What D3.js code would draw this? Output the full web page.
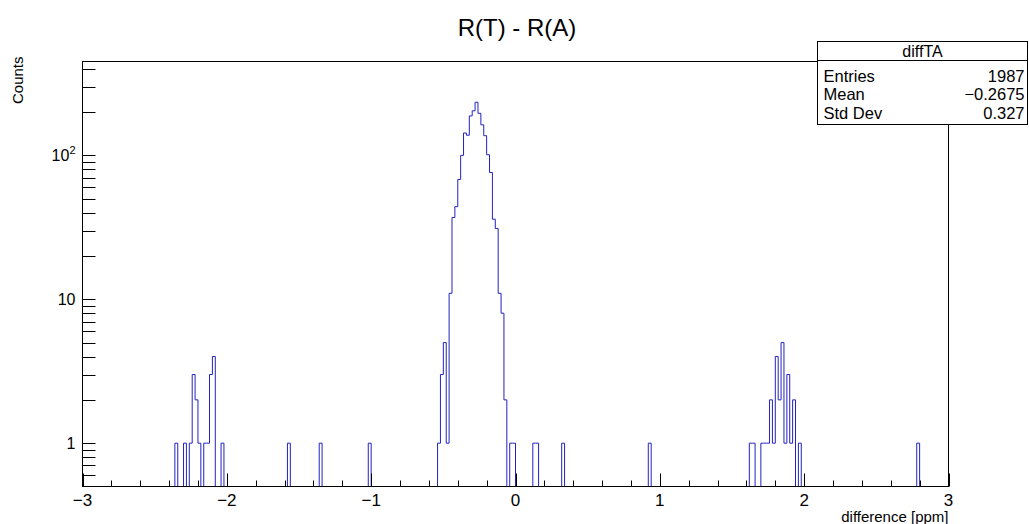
<!DOCTYPE html>
<html>
<head>
<meta charset="utf-8">
<script src="https://cdn.jsdelivr.net/npm/d3@7"></script>
<style>
  body { margin: 0; background: #fff; }
  svg { display: block; font-family: 'Liberation Sans', Arial, sans-serif; }
</style>
</head>
<body>
<div id="chart"></div>
<script>
// histogram axis: 300 bins of 0.02 from -3 to 3
const xMin = -3
const xMax = 3
const binWidth = 0.02

// non-empty bins (low edge) and their counts
const binLowEdges = [
  -2.36, -2.30, -2.26, -2.24, -2.22, -2.20, -2.16, -2.14, -2.12, -2.10, -2.04,
  -1.58, -1.36, -1.02,
  -0.54, -0.52, -0.50, -0.48, -0.46, -0.44, -0.42, -0.40, -0.38, -0.36, -0.34,
  -0.32, -0.30, -0.28, -0.26, -0.24, -0.22, -0.20, -0.18, -0.16, -0.14, -0.12,
  -0.10, -0.08, -0.04, -0.02,
  0.12, 0.14, 0.32, 0.92,
  1.62, 1.64, 1.70, 1.72, 1.74, 1.76, 1.78, 1.80, 1.82, 1.84, 1.86, 1.88, 1.90,
  1.92, 1.96,
  2.78,
]
const binCounts = [
  1, 1, 1, 3, 2, 1, 1, 1, 3, 4, 1,
  1, 1, 1,
  1, 3, 5, 1, 11, 37, 44, 68, 100, 143, 138,
  188, 204, 234, 196, 163, 137, 101, 76, 36, 31, 11,
  8, 2, 1, 1,
  1, 1, 1, 1,
  1, 1, 1, 1, 1, 2, 1, 4, 2, 5, 1, 3, 1,
  2, 1,
  1,
]

const xTickValues = [-3, -2, -1, 0, 1, 2, 3]
const yLabelValues = [1, 10, 100]

const statsTitle = 'diffTA'
const statsNames = ['Entries', 'Mean', 'Std Dev']
const statsValues = ['1987', '\u22120.2675', '0.327']

const chartTitle = 'R(T) - R(A)'
const xAxisLabel = 'difference [ppm]'
const yAxisLabel = 'Counts'

renderChart()

function renderChart() {
  const width = 1029
  const height = 524
  const frame = { left: 82.5, right: 948.5, top: 61.5, bottom: 486.5 }
  const lineColor = '#2222c4'

  const svg = d3
    .select('#chart')
    .append('svg')
    .attr('width', width)
    .attr('height', height)

  const xScale = d3
    .scaleLinear()
    .domain([xMin, xMax])
    .range([frame.left, frame.right])
  const yScale = d3
    .scaleLog()
    .domain([0.5, 449])
    .range([frame.bottom, frame.top])

  // fill the full set of bins, empty ones are 0
  const nBins = Math.round((xMax - xMin) / binWidth)
  const counts = new Array(nBins).fill(0)
  binLowEdges.forEach((lo, i) => {
    counts[Math.round((lo - xMin) / binWidth)] = binCounts[i]
  })
  const steps = counts.map((c, i) => ({ x: xMin + i * binWidth, c }))
  steps.push({ x: xMax, c: counts[nBins - 1] })

  svg
    .append('defs')
    .append('clipPath')
    .attr('id', 'frame-clip')
    .append('rect')
    .attr('x', frame.left)
    .attr('y', frame.top)
    .attr('width', frame.right - frame.left)
    .attr('height', frame.bottom - frame.top)

  const histLine = d3
    .line()
    .x(d => xScale(d.x))
    .y(d => (d.c > 0 ? yScale(d.c) : frame.bottom))
    .curve(d3.curveStepAfter)

  svg
    .append('path')
    .datum(steps)
    .attr('clip-path', 'url(#frame-clip)')
    .attr('d', histLine)
    .attr('fill', 'none')
    .attr('stroke', lineColor)
    .attr('stroke-width', 1)

  // frame
  svg
    .append('rect')
    .attr('x', frame.left)
    .attr('y', frame.top)
    .attr('width', frame.right - frame.left)
    .attr('height', frame.bottom - frame.top)
    .attr('fill', 'none')
    .attr('stroke', '#000')
    .attr('stroke-width', 1)

  renderXAxis({ svg, xScale, frame })
  renderYAxis({ svg, yScale, frame })
  renderStats({ svg })

  svg
    .append('text')
    .attr('x', 517)
    .attr('y', 36)
    .attr('text-anchor', 'middle')
    .style('font-size', '24px')
    .text(chartTitle)
}

function renderXAxis({ svg, xScale, frame }) {
  const minorTicks = d3.range(xMin, xMax + 0.001, 0.2)
  const g = svg.append('g').attr('class', 'x-axis')

  g.selectAll('line.minor')
    .data(minorTicks)
    .join('line')
    .attr('x1', d => Math.round(xScale(d)) + 0.5)
    .attr('x2', d => Math.round(xScale(d)) + 0.5)
    .attr('y1', frame.bottom)
    .attr('y2', d =>
      xTickValues.some(t => Math.abs(t - d) < 1e-6)
        ? frame.bottom - 13
        : frame.bottom - 6,
    )
    .attr('stroke', '#000')

  g.selectAll('text')
    .data(xTickValues)
    .join('text')
    .attr('x', d => xScale(d))
    .attr('y', frame.bottom + 19)
    .attr('text-anchor', 'middle')
    .style('font-size', '17px')
    .text(d => (d < 0 ? `\u2212${Math.abs(d)}` : d))

  g.append('text')
    .attr('x', frame.right)
    .attr('y', 522)
    .attr('text-anchor', 'end')
    .style('font-size', '15px')
    .text(xAxisLabel)
}

function renderYAxis({ svg, yScale, frame }) {
  const g = svg.append('g').attr('class', 'y-axis')
  const ticks = yScale.ticks().filter(v => v > 0.5 && yScale(v) > frame.top)

  g.selectAll('line')
    .data(ticks)
    .join('line')
    .attr('x1', frame.left)
    .attr('x2', frame.left + 13)
    .attr('y1', d => Math.round(yScale(d)) + 0.5)
    .attr('y2', d => Math.round(yScale(d)) + 0.5)
    .attr('stroke', '#000')

  const labels = g
    .selectAll('text.tick-label')
    .data(yLabelValues)
    .join('text')
    .attr('class', 'tick-label')
    .attr('x', frame.left - 7)
    .attr('y', d => yScale(d) + 6)
    .attr('text-anchor', 'end')
    .style('font-size', '16px')

  labels.each(function (d) {
    const t = d3.select(this)
    if (d >= 100) {
      t.append('tspan').text('10')
      t.append('tspan')
        .attr('dy', -7)
        .style('font-size', '11px')
        .text(Math.round(Math.log10(d)))
    } else {
      t.text(d)
    }
  })

  g.append('text')
    .attr('transform', `translate(23, ${frame.top - 5}) rotate(-90)`)
    .attr('text-anchor', 'end')
    .style('font-size', '15px')
    .text(yAxisLabel)
}

function renderStats({ svg }) {
  const box = { x: 817.5, y: 41.5, w: 210, h: 83, header: 19 }
  const g = svg.append('g').attr('class', 'stats')

  g.append('rect')
    .attr('x', box.x)
    .attr('y', box.y)
    .attr('width', box.w)
    .attr('height', box.h)
    .attr('fill', '#fff')
    .attr('stroke', '#000')

  g.append('line')
    .attr('x1', box.x)
    .attr('x2', box.x + box.w)
    .attr('y1', box.y + box.header)
    .attr('y2', box.y + box.header)
    .attr('stroke', '#000')

  g.append('text')
    .attr('x', box.x + box.w / 2)
    .attr('y', box.y + 15)
    .attr('text-anchor', 'middle')
    .style('font-size', '16px')
    .text(statsTitle)

  statsNames.forEach((name, i) => {
    const y = box.y + box.header + 21 + i * 18.5
    g.append('text')
      .attr('x', box.x + 6)
      .attr('y', y)
      .style('font-size', '16.5px')
      .text(name)
    g.append('text')
      .attr('x', box.x + box.w - 3)
      .attr('y', y)
      .attr('text-anchor', 'end')
      .style('font-size', '16.5px')
      .text(statsValues[i])
  })
}
</script>
</body>
</html>
